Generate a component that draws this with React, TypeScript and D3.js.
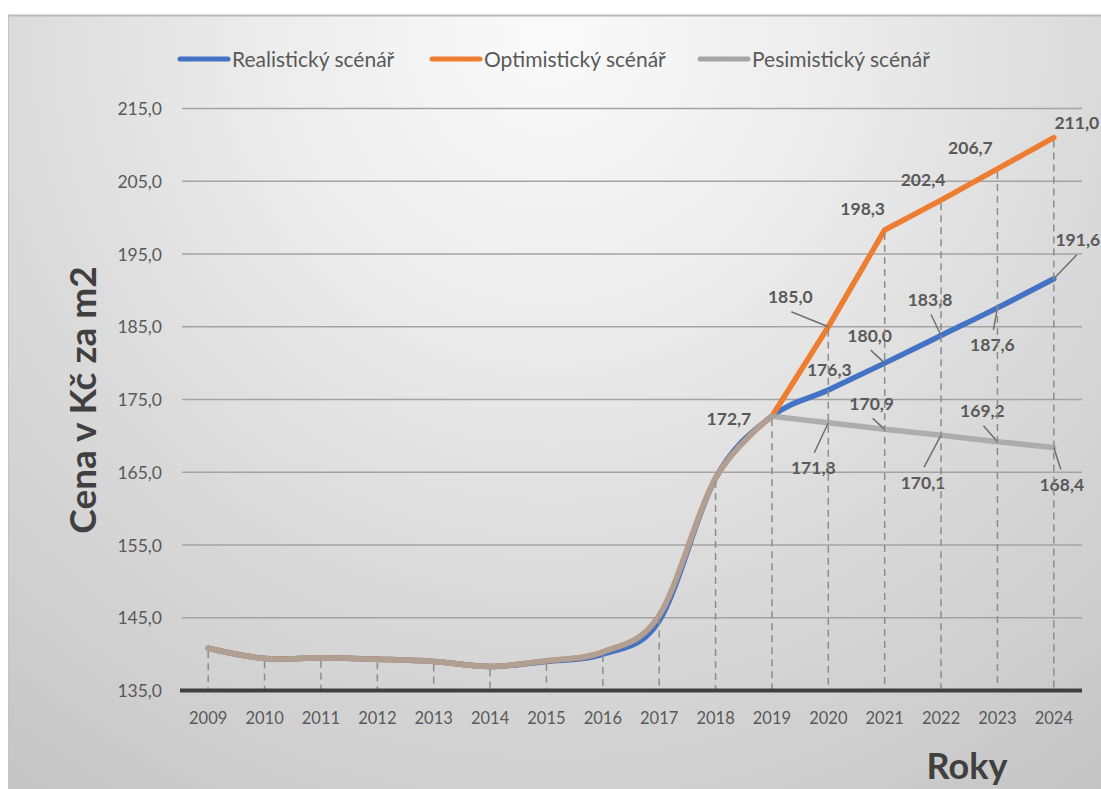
import React from "react";
import * as d3 from "d3";

const years = ["2009","2010","2011","2012","2013","2014","2015","2016","2017","2018","2019","2020","2021","2022","2023","2024"];
const realistic = [140.8, 139.4, 139.5, 139.3, 139.0, 138.3, 139.0, 140.0, 144.6, 164.2, 172.7, 176.3, 180.0, 183.8, 187.6, 191.6];
const optimistic = [140.8, 139.4, 139.5, 139.3, 139.0, 138.3, 139.1, 140.3, 145.3, 164.2, 172.7, 185.0, 198.3, 202.4, 206.7, 211.0];
const pessimistic = [140.8, 139.4, 139.5, 139.3, 139.0, 138.3, 139.1, 140.3, 145.3, 164.2, 172.7, 171.8, 170.9, 170.1, 169.2, 168.4];
const yTicks = [135, 145, 155, 165, 175, 185, 195, 205, 215];
const seriesNames = ["Realistický scénář", "Optimistický scénář", "Pesimistický scénář"];
const forecastStart = 10; // index of 2019

// label layout: [seriesIndex, yearIndex, dx, dy, leader]
const labelLayout: [number, number, number, number, boolean][] = [
  [0, 10, -43, 2, false],
  [0, 11, 1, -21, false],
  [0, 12, -15, -28, true],
  [0, 13, -11, -36, true],
  [0, 14, -5, 37, true],
  [0, 15, 24, -39, true],
  [1, 11, -38, -30, true],
  [1, 12, -22, -21, false],
  [1, 13, -18, -21, false],
  [1, 14, -27, -21, false],
  [1, 15, 23, -15, false],
  [2, 11, -15, 45, true],
  [2, 12, -13, -26, true],
  [2, 13, -18, 47, true],
  [2, 14, -15, -31, true],
  [2, 15, 8, 37, true],
];

const W = 1101, H = 789;
const colors = ["#4472C4", "#ED7D31", "#A5A5A5"];
const FONT = "Lato, 'Open Sans', sans-serif";
const TXT = "#595959";

export default function App() {
  const allSeries = [realistic, optimistic, pessimistic];
  const x = d3.scaleBand<string>().domain(years).range([180, 1082]).padding(0);
  const cx = (y: string) => (x(y) as number) + x.bandwidth() / 2;
  const y = d3.scaleLinear().domain([135, 215]).range([690.5, 108.5]);
  const locale = d3.formatLocale({ decimal: ",", thousands: " ", grouping: [3], currency: ["", " Kč"] });
  const fmt = locale.format(".1f");

  const smooth = d3.line<number>().x((_, i) => cx(years[i])).y(v => y(v)).curve(d3.curveCardinal.tension(0));
  const straight = d3.line<[number, number]>().x(d => cx(years[d[0]])).y(d => y(d[1]));

  const paths: string[] = allSeries.map((s, si) => {
    if (si === 0) return smooth(s) as string;
    const hist = smooth(s.slice(0, forecastStart + 1)) as string;
    const fc = straight(s.slice(forecastStart).map((v, i) => [i + forecastStart, v] as [number, number])) as string;
    return hist + fc;
  });

  const maxVals = years.map((_, i) => d3.max(allSeries, s => s[i]) as number);

  const legendItems = [
    { x1: 180, x2: 228, tx: 232 },
    { x1: 432, x2: 480, tx: 484 },
    { x1: 700, x2: 748, tx: 752 },
  ];

  return (
    <div style={{ position: "absolute", left: 0, top: 0 }}>
      <svg width={W} height={H} style={{ display: "block" }}>
        <defs>
          <radialGradient id="bg" gradientUnits="userSpaceOnUse" cx={550} cy={40} r={950}>
            <stop offset="0" stopColor="#fafafa" />
            <stop offset="0.3" stopColor="#ececec" />
            <stop offset="0.57" stopColor="#dbdbdb" />
            <stop offset="0.8" stopColor="#cfcfcf" />
            <stop offset="1" stopColor="#c3c3c3" />
          </radialGradient>
        </defs>
        <rect x={0} y={0} width={W} height={H} fill="#ffffff" />
        <rect x={8} y={15} width={W - 8} height={H - 15} fill="url(#bg)" />
        <line x1={8} x2={W} y1={15.5} y2={15.5} stroke="#b8b8b8" strokeWidth={2} />
        <line x1={8.5} x2={8.5} y1={15} y2={H} stroke="#c4c4c4" strokeWidth={1} />

        {/* legend */}
        {legendItems.map((it, i) => (
          <g key={i}>
            <line x1={it.x1} x2={it.x2} y1={59} y2={59} stroke={colors[i]} strokeWidth={5} strokeLinecap="round" />
            <text x={it.tx} y={58} dominantBaseline="central" fontFamily={FONT} fontSize={21} fill={TXT}>{seriesNames[i]}</text>
          </g>
        ))}

        {/* gridlines */}
        {yTicks.filter(t => t !== 135).map(t => (
          <line key={t} x1={182} x2={1082} y1={y(t)} y2={y(t)} stroke="#a3a3a3" strokeWidth={1.6} />
        ))}
        {/* y tick labels */}
        {yTicks.map(t => (
          <text key={t} x={162} y={y(t)} textAnchor="end" dominantBaseline="central" fontFamily={FONT} fontSize={17.5} fill={TXT}>{fmt(t)}</text>
        ))}

        {/* series */}
        {paths.map((d, i) => (
          <path key={i} d={d} fill="none" stroke={colors[i]} strokeWidth={5.5} strokeLinejoin="round" strokeLinecap="round" opacity={i === 2 ? 0.85 : 1} />
        ))}

        {/* labels */}
        {labelLayout.map(([si, yi, dx, dy, leader], k) => {
          const px = cx(years[yi]);
          const py = y(allSeries[si][yi]);
          const tx = px + dx, ty = py + dy;
          const sy = ty + (dy > 0 ? -15 : 15);
          return (
            <g key={k}>
              {leader && <line x1={tx + (dx > 0 ? -1 : 1)} y1={sy} x2={px} y2={py} stroke="#6e6e6e" strokeWidth={1.5} />}
              <text x={tx} y={ty} textAnchor="middle" dominantBaseline="central" fontFamily={FONT} fontWeight="bold" fontSize={17.5} fill={TXT}>{fmt(allSeries[si][yi])}</text>
            </g>
          );
        })}

        {/* drop lines */}
        {years.map((yr, i) => (
          <line key={yr} x1={cx(yr)} x2={cx(yr)} y1={y(maxVals[i]) + 3} y2={y(135)} stroke="#8c8c8c" strokeWidth={1.5} strokeDasharray="7 5" />
        ))}

        {/* axis line */}
        <line x1={180} x2={1082} y1={y(135)} y2={y(135)} stroke="#404040" strokeWidth={4} />

        {/* x labels */}
        {years.map(yr => (
          <text key={yr} x={cx(yr)} y={718} textAnchor="middle" dominantBaseline="central" fontFamily={FONT} fontSize={16.5} fill={TXT}>{yr}</text>
        ))}

        {/* axis titles */}
        <text transform="translate(81,400) rotate(-90)" textAnchor="middle" dominantBaseline="central" fontFamily={FONT} fontWeight="bold" fontSize={37} fill="#404040">Cena v Kč za m2</text>
        <text x={967} y={765} textAnchor="middle" dominantBaseline="central" fontFamily={FONT} fontWeight="bold" fontSize={36} fill="#404040">Roky</text>
      </svg>
    </div>
  );
}
